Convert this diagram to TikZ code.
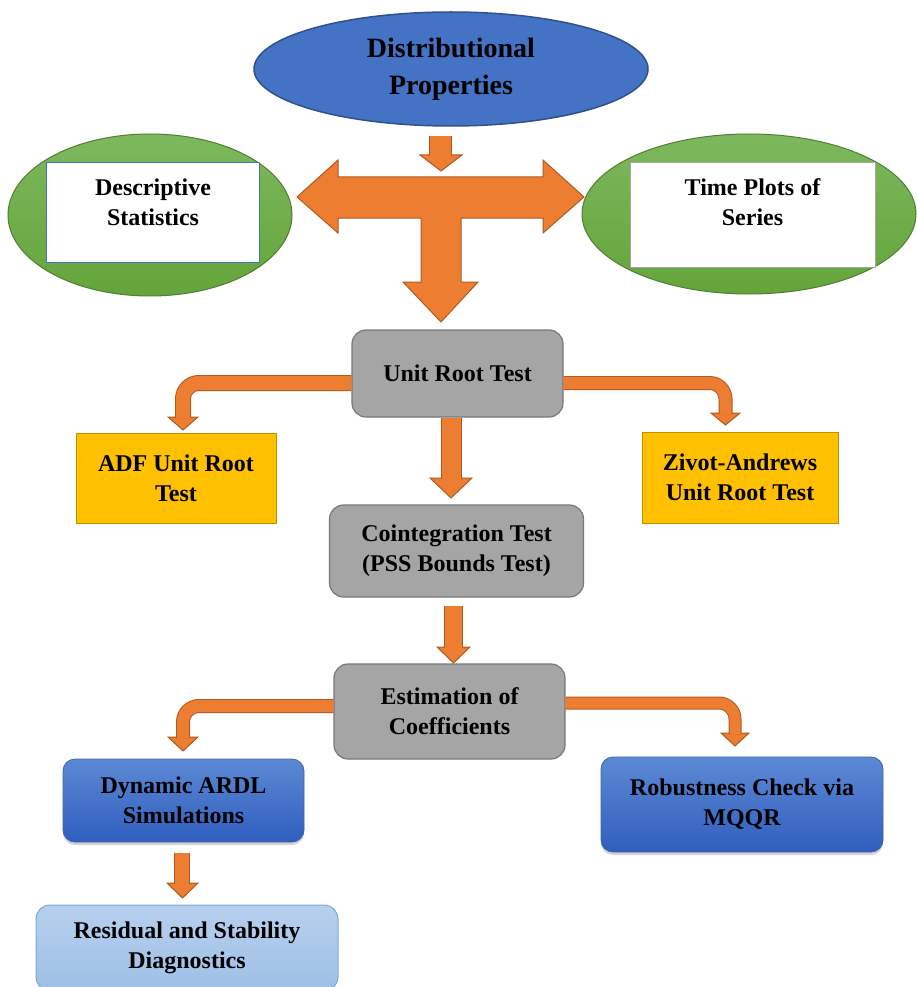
\documentclass[tikz,border=0pt]{standalone}
\usepackage{fontspec}
\setmainfont{Liberation Serif}
\usetikzlibrary{shapes.geometric,shadows}
\definecolor{orangefill}{RGB}{237,125,49}
\definecolor{orangeline}{RGB}{174,90,33}
\definecolor{bluefill}{RGB}{68,114,196}
\definecolor{blueline}{RGB}{47,82,143}
\definecolor{greentop}{RGB}{125,184,94}
\definecolor{greenbot}{RGB}{101,164,58}
\definecolor{greenline}{RGB}{80,126,50}
\definecolor{grayfill}{RGB}{165,165,165}
\definecolor{grayline}{RGB}{120,120,120}
\definecolor{goldfill}{RGB}{255,192,0}
\definecolor{goldline}{RGB}{191,144,0}
\definecolor{navytop}{RGB}{92,137,212}
\definecolor{navybot}{RGB}{48,94,190}
\definecolor{navyline}{RGB}{60,100,180}
\definecolor{skytop}{RGB}{184,207,238}
\definecolor{skybot}{RGB}{157,192,230}
\definecolor{skyline}{RGB}{125,167,216}

\tikzset{
  every node/.style={font=\bfseries\fontsize{24}{30}\selectfont, align=center, inner sep=0pt},
  grayblock/.style={rectangle, rounded corners=14pt, fill=grayfill, draw=grayline, line width=1.2pt},
  goldblock/.style={rectangle, fill=goldfill, draw=goldline, line width=1pt},
  navyblock/.style={rectangle, rounded corners=12pt, top color=navytop, bottom color=navybot,
    draw=navyline, line width=0.8pt, drop shadow={opacity=0.35, shadow xshift=0pt, shadow yshift=-3pt}},
  skyblock/.style={rectangle, rounded corners=14pt, top color=skytop, bottom color=skybot, draw=skyline, line width=1pt},
  greenoval/.style={ellipse, top color=greentop, bottom color=greenbot, draw=greenline, line width=1pt},
  whitebox/.style={rectangle, fill=white, draw=#1, line width=0.8pt},
  shaft/.style={draw=orangeline, line width=1pt, double=orangefill, double distance=#1, rounded corners=16pt},
  fathead/.style={fill=orangefill, draw=orangeline, line width=1pt}
}

\begin{document}
\begin{tikzpicture}[x=1pt, y=-1pt]
  \useasboundingbox (0,0) rectangle (917,987);

  \node[ellipse, fill=bluefill, draw=blueline, line width=1.5pt, minimum width=394pt, minimum height=114pt,
    font=\bfseries\fontsize{28}{37}\selectfont] (dist) at (451,69) {Distributional\\Properties};

  \node[greenoval, minimum width=284pt, minimum height=162pt] (descoval) at (150,215) {};
  \node[whitebox=bluefill, minimum width=213pt, minimum height=100pt,
    label={[yshift=10pt]center:{Descriptive\\Statistics}}] (desc) at (153,212) {};
  \node[greenoval, minimum width=334pt, minimum height=160pt] (timeoval) at (749,214) {};
  \node[whitebox=grayfill, minimum width=245pt, minimum height=105pt,
    label={[yshift=12pt]center:{Time Plots of\\Series}}] (time) at (752.5,214.5) {};

  \node[grayblock, minimum width=211pt, minimum height=87pt] (unitroot) at (457.5,373.5) {Unit Root Test};
  \node[goldblock, minimum width=200pt, minimum height=90pt] (adf) at (176,478) {ADF Unit Root\\Test};
  \node[goldblock, minimum width=196pt, minimum height=91pt] (zivot) at (740,477.5) {Zivot-Andrews\\Unit Root Test};
  \node[grayblock, minimum width=254pt, minimum height=92pt] (coint) at (456.5,551) {Cointegration Test\\(PSS Bounds Test)};
  \node[grayblock, minimum width=231pt, minimum height=95pt] (estim) at (449.5,711.5) {Estimation of\\Coefficients};
  \node[navyblock, minimum width=241pt, minimum height=83pt] (ardl) at (183.5,800.5) {Dynamic ARDL\\Simulations};
  \node[navyblock, minimum width=282pt, minimum height=95pt] (mqqr) at (742,804.5) {Robustness Check via\\MQQR};
  \node[skyblock, minimum width=302pt, minimum height=86pt] (resid) at (187,948) {Residual and Stability\\Diagnostics};

  \fill[fathead] (420,155) -- (462,155) -- (441,171) -- cycle;
  \draw[shaft=21pt] ([xshift=-10.5pt, yshift=-9pt]dist.south) -- (440.5,156);

  \fill[fathead] (297,197) -- (338,160) -- (338,177) -- (543,177) -- (543,160) -- (584,197)
    -- (543,233) -- (543,218) -- (461,218) -- (461,282) -- (478,282) -- (441,322)
    -- (403,282) -- (421,282) -- (421,218) -- (338,218) -- (338,233) -- cycle;

  \fill[fathead] (168,417) -- (198,417) -- (183,430) -- cycle;
  \draw[shaft=14pt] ([yshift=-9.5pt]unitroot.west) -| (183,418);
  \fill[fathead] (711,413) -- (740,413) -- (725.5,425) -- cycle;
  \draw[shaft=12pt] ([yshift=-9.5pt]unitroot.east) -| (725.5,414);
  \fill[fathead] (430,478) -- (472,478) -- (451,498) -- cycle;
  \draw[shaft=19pt] ([xshift=-6pt]unitroot.south) -- (451.5,479);

  \fill[fathead] (437,647) -- (470,647) -- (453.5,663) -- cycle;
  \draw[shaft=17pt] ([xshift=-3pt, yshift=-8pt]coint.south) -- (453.5,648);

  \fill[fathead] (168,737) -- (198,737) -- (183,751) -- cycle;
  \draw[shaft=12pt] ([yshift=5.5pt]estim.west) -| (183,738);
  \fill[fathead] (721,733) -- (749,733) -- (735,746) -- cycle;
  \draw[shaft=11pt] ([yshift=8.5pt]estim.east) -| (735,734);

  \fill[fathead] (167,883) -- (198,883) -- (182.5,898) -- cycle;
  \draw[shaft=14pt] ([xshift=-1.5pt, yshift=-11pt]ardl.south) -- (182,884);
\end{tikzpicture}
\end{document}
